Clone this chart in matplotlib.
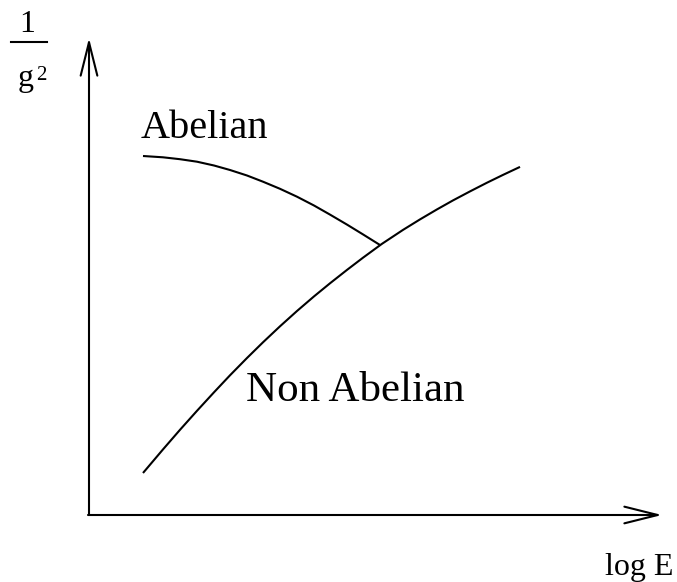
import matplotlib
matplotlib.use("Agg")
import matplotlib.pyplot as plt

# schematic running couplings (pixel-like coordinates, y down)
abel_x = [143, 163, 180, 197, 214, 230, 247, 263, 280, 297, 314, 330, 347, 363, 380]
abel_y = [156, 157.3, 159.2, 161.7, 165.5, 170, 175.5, 181.7, 188.8, 196.7, 205.5, 214.6, 224.6, 234.4, 245.0]
nonabel_x = [143, 163, 180, 197, 214, 230, 247, 263, 280, 297, 314, 330, 347,
             363, 382, 403, 420, 437, 453, 470, 487, 503, 520]
nonabel_y = [473, 449.4, 429.8, 410.8, 392.3, 375.3, 358.0, 342.3, 326.3, 311.0, 296.4, 283.3, 269.9,
             257.7, 243.8, 229.9, 219.4, 209.4, 200.4, 191.4, 182.7, 174.9, 166.9]

plt.rcParams['font.family'] = ['Liberation Serif', 'DejaVu Serif']

fig = plt.figure(figsize=(6.77, 5.82), dpi=100)
ax = fig.add_axes([0, 0, 1, 1])
ax.set_xlim(0, 677)
ax.set_ylim(582, 0)
ax.axis('off')

arrow = dict(arrowstyle='->, head_length=2.4, head_width=0.6', lw=1.5,
             color='black', mutation_scale=10, shrinkA=0, shrinkB=0)
ax.annotate('', xy=(89, 38), xytext=(89, 515), arrowprops=arrow)
ax.annotate('', xy=(662, 515), xytext=(88, 515), arrowprops=arrow)

ax.plot(abel_x, abel_y, color='black', lw=1.5, solid_capstyle='butt',
        solid_joinstyle='round')
ax.plot(nonabel_x, nonabel_y, color='black', lw=1.5, solid_capstyle='butt',
        solid_joinstyle='round')

ax.text(141, 138, 'Abelian', fontsize=29, ha='left', va='baseline')
ax.text(246, 401, 'Non Abelian', fontsize=31, ha='left', va='baseline')
ax.text(605, 575, 'log E', fontsize=23, ha='left', va='baseline')

# 1/g^2 label
ax.text(27, 32, '1', fontsize=23, ha='center', va='baseline')
ax.plot([11, 47], [42, 42], color='black', lw=1.5)
ax.text(18, 86, 'g', fontsize=23, ha='left', va='baseline')
ax.text(36, 80, '2', fontsize=15, ha='left', va='baseline')

fig.savefig('out.png', dpi=100)
